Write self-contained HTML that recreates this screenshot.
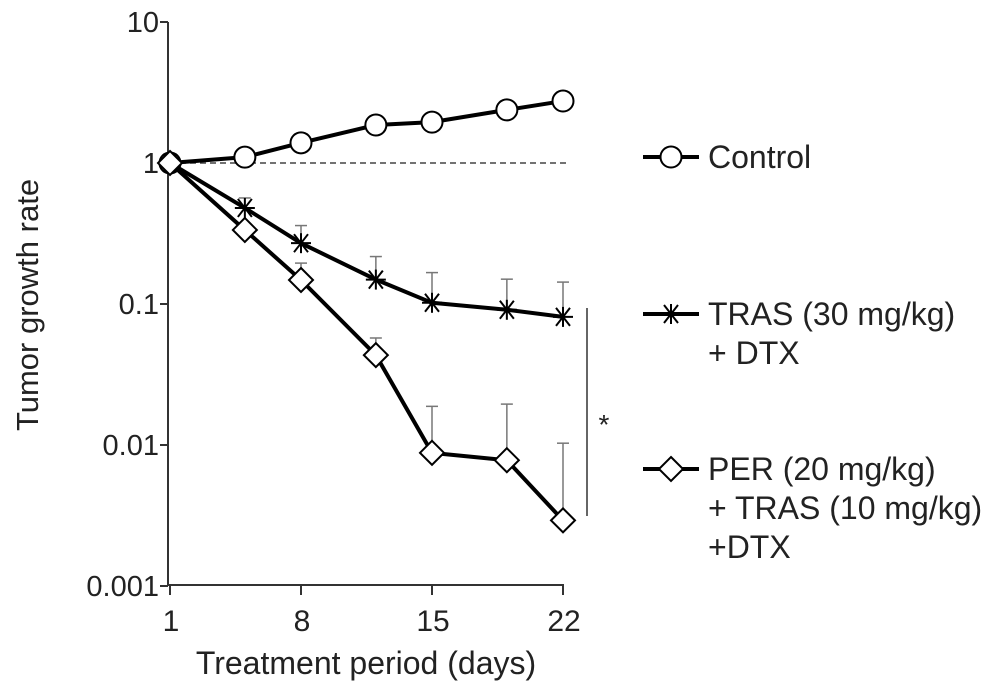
<!DOCTYPE html>
<html><head><meta charset="utf-8"><style>
body{margin:0;background:#fff}
svg{display:block;font-family:"Liberation Sans",Arial,sans-serif}
</style></head><body>
<svg id="chart" width="1005" height="695" viewBox="0 0 1005 695" xmlns="http://www.w3.org/2000/svg"></svg>
<script>
const days=[1,5,8,12,15,19,22];
const xTicks=[1,8,15,22];
const yTicks=[10,1,0.1,0.01,0.001];
const yTickLabels=["10","1","0.1","0.01","0.001"];
const control=[1,1.10,1.39,1.86,1.95,2.38,2.75];
const tras=[1,0.48,0.27,0.149,0.102,0.091,0.081];
const trasErr=[null,0.565,0.36,0.217,0.167,0.15,0.143];
const per=[1,0.335,0.148,0.0434,0.0088,0.0078,0.00292];
const perErr=[null,null,0.195,0.0574,0.0188,0.0195,0.0103];

const svg=document.getElementById('chart');
const NS="http://www.w3.org/2000/svg";
const X=d=>170+(d-1)*(563-170)/21;
const Y=v=>163-Math.log10(v)*141;
function el(tag,attrs,parent){const e=document.createElementNS(NS,tag);for(const k in attrs)e.setAttribute(k,attrs[k]);(parent||svg).appendChild(e);return e;}
function txt(s,attrs){const t=el('text',attrs);t.textContent=s;return t;}

let a=el('line',{x1:168,y1:Y(10),x2:168,y2:Y(0.001),stroke:'#333','stroke-width':2});


a=el('line',{x1:168,y1:585,x2:564,y2:585,stroke:'#333','stroke-width':2});


yTicks.forEach((v,i)=>{
  const l=el('line',{x1:160,y1:Y(v),x2:168,y2:Y(v),stroke:'#333','stroke-width':2});
  
  
  const t=txt(yTickLabels[i],{x:159,y:Y(v)+10,'text-anchor':'end','font-size':29,fill:'#222'});
  
  
});
xTicks.forEach(d=>{
  const l=el('line',{x1:X(d),y1:585,x2:X(d),y2:595,stroke:'#333','stroke-width':2});
  
  
  const t=txt(String(d),{x:X(d)+1,y:631,'text-anchor':'middle','font-size':30,fill:'#222'});
  
  
});
let t=txt('Treatment period (days)',{x:366,y:674,'text-anchor':'middle','font-size':32,fill:'#222'});


t=txt('Tumor growth rate',{x:0,y:0,'text-anchor':'middle','font-size':31,fill:'#222',transform:'translate(38,305) rotate(-90)'});



let r=el('line',{x1:170,y1:Y(1),x2:567,y2:Y(1),stroke:'#444','stroke-width':1.5,'stroke-dasharray':'6,4'});



function errBars(vals,errs,name){
  errs.forEach((e,i)=>{if(e==null)return;
    const g=el('g',{stroke:'#777','stroke-width':1.5});
    
    
    el('line',{x1:X(days[i]),y1:Y(vals[i]),x2:X(days[i]),y2:Y(e)},g);
    el('line',{x1:X(days[i])-6,y1:Y(e),x2:X(days[i])+6,y2:Y(e)},g);
  });
}
errBars(tras,trasErr,'tras-error-bar');
errBars(per,perErr,'per-error-bar');

function marker(type,x,y,parent){
  if(type==='circle')el('circle',{cx:x,cy:y,r:10.5,fill:'#fff',stroke:'#000','stroke-width':2},parent);
  else if(type==='diamond')el('path',{d:`M${x} ${y-12}L${x+12} ${y}L${x} ${y+12}L${x-12} ${y}Z`,fill:'#fff',stroke:'#000','stroke-width':2},parent);
  else {const g=el('g',{stroke:'#000','stroke-width':2},parent);
    el('line',{x1:x-10,y1:y,x2:x+10,y2:y},g);el('line',{x1:x-7,y1:y-9,x2:x+7,y2:y+9},g);el('line',{x1:x+7,y1:y-9,x2:x-7,y2:y+9},g);el('line',{x1:x,y1:y-10,x2:x,y2:y+10},g);}
}
function series(vals,type,name){
  const g=el('g',{});
  
  
  el('polyline',{points:vals.map((v,i)=>X(days[i])+','+Y(v)).join(' '),fill:'none',stroke:'#000','stroke-width':4,'stroke-linejoin':'round'},g);
  vals.forEach((v,i)=>marker(type,X(days[i]),Y(v),g));
}
series(control,'circle','control-series');
series(tras,'star','tras-series');
series(per,'diamond','per-series');

let b=el('line',{x1:587,y1:308,x2:587,y2:516,stroke:'#333','stroke-width':1.5});


t=txt('*',{x:604,y:434,'text-anchor':'middle','font-size':28,fill:'#222'});



const legend=[['circle',157,['Control']],['star',314,['TRAS (30 mg/kg)','+ DTX']],['diamond',469,['PER (20 mg/kg)','+ TRAS (10 mg/kg)','+DTX']]];
legend.forEach(([type,y,lines])=>{
  const g=el('g',{});
  
  
  el('line',{x1:643,y1:y,x2:699,y2:y,stroke:'#000','stroke-width':4},g);
  marker(type,671,y,g);
  lines.forEach((s,i)=>{const tt=el('text',{x:708,y:y+11+i*39,'font-size':32,fill:'#222'},g);tt.textContent=s;});
});
</script>
</body></html>
